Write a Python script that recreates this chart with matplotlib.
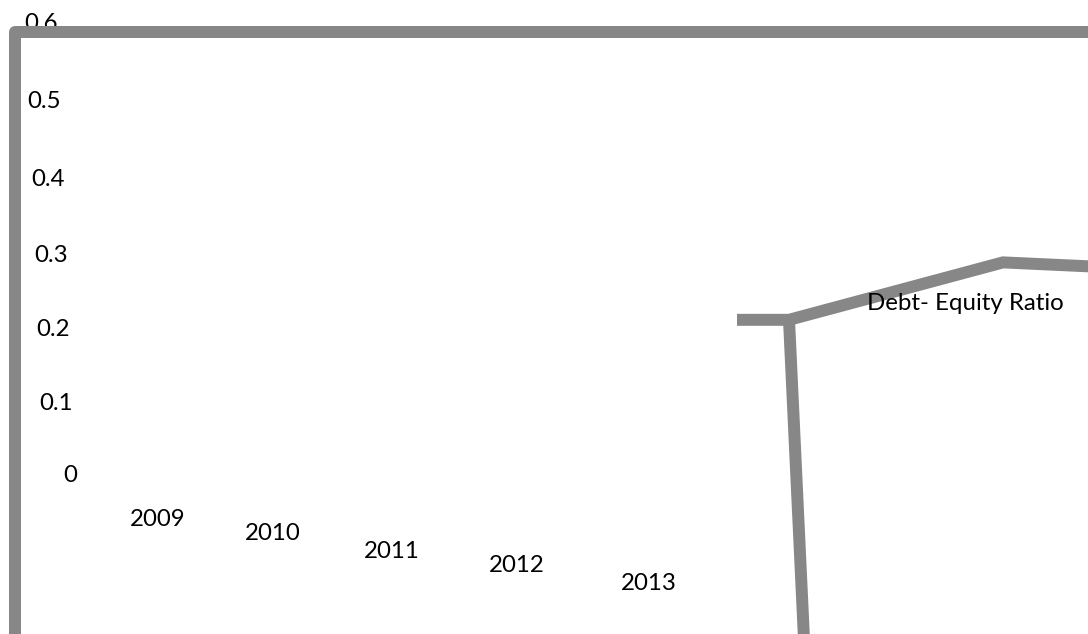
import matplotlib.pyplot as plt

# axis labels as they appear (staggered in the source picture)
ratio_ticks = ["0.6", "0.5", "0.4", "0.3", "0.2", "0.1", "0"]
tick_x = [41, 44, 48, 51, 53.5, 56, 70]
tick_y = [24, 102, 180, 255, 330, 404, 475]

years = ["2009", "2010", "2011", "2012", "2013"]
year_x = [158, 273, 392, 517, 649]
year_y = [520, 533, 551, 566, 584]

# debt-equity ratio line
ratio_x = [737, 789, 1003, 1100]
ratio_v = [0.208, 0.208, 0.285, 0.279]
drop_x = [789, 804]
drop_v = [0.208, -0.22]

series_name = "Debt- Equity Ratio"

GRAY = "#878787"
ZERO_Y = 475      # pixel row of ratio 0
PX_PER_UNIT = 746  # pixels per 1.0 of ratio


def to_px(vals):
    return [ZERO_Y - PX_PER_UNIT * v for v in vals]


plt.rcParams['font.family'] = ['Lato', 'DejaVu Sans']

fig = plt.figure(figsize=(10.88, 6.34), dpi=100)
ax = fig.add_axes([0, 0, 1, 1])
ax.set_xlim(0, 1088)
ax.set_ylim(634, 0)
ax.axis("off")

lw = 12 * 72 / 100

# chart frame (top and left edge)
ax.plot([14.5, 14.5, 1100], [700, 32, 32], color=GRAY, lw=lw,
        solid_joinstyle="round", solid_capstyle="butt", clip_on=False, zorder=2)

ax.plot(ratio_x, to_px(ratio_v), color=GRAY, lw=lw,
        solid_joinstyle="miter", solid_capstyle="butt", clip_on=False, zorder=2)
ax.plot(drop_x, to_px(drop_v), color=GRAY, lw=lw,
        solid_capstyle="butt", clip_on=False, zorder=2)

fs = 17.3
for lab, x, y in zip(ratio_ticks, tick_x, tick_y):
    ax.text(x, y, lab, ha="center", va="center", fontsize=fs, zorder=1)

for lab, x, y in zip(years, year_x, year_y):
    ax.text(x, y, lab, ha="center", va="center", fontsize=fs, zorder=1)

ax.text(965, 304, series_name, ha="center", va="center", fontsize=fs, zorder=3)

fig.savefig("out.png", dpi=100)
